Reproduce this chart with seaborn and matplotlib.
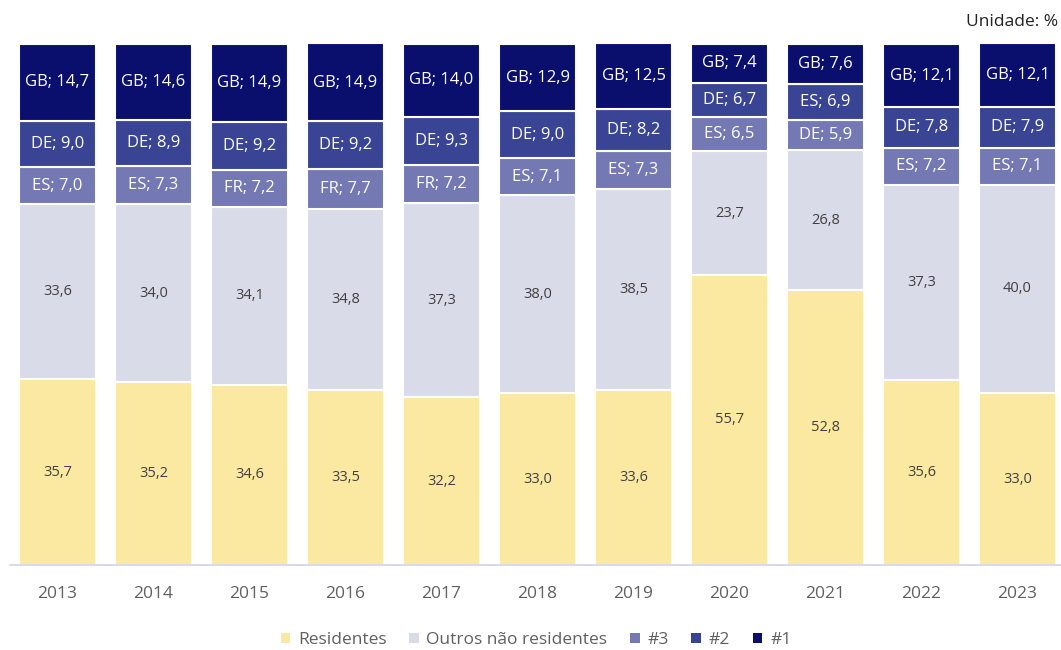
import matplotlib
matplotlib.use("Agg")
import matplotlib.pyplot as plt
from matplotlib.patches import Patch
import numpy as np
import pandas as pd
import seaborn as sns

years = ["2013", "2014", "2015", "2016", "2017", "2018", "2019", "2020", "2021", "2022", "2023"]
residentes = [35.7, 35.2, 34.6, 33.5, 32.2, 33.0, 33.6, 55.7, 52.8, 35.6, 33.0]
outros = [33.6, 34.0, 34.1, 34.8, 37.3, 38.0, 38.5, 23.7, 26.8, 37.3, 40.0]
top3_vals = [7.0, 7.3, 7.2, 7.7, 7.2, 7.1, 7.3, 6.5, 5.9, 7.2, 7.1]
top3_names = ["ES", "ES", "FR", "FR", "FR", "ES", "ES", "ES", "DE", "ES", "ES"]
top2_vals = [9.0, 8.9, 9.2, 9.2, 9.3, 9.0, 8.2, 6.7, 6.9, 7.8, 7.9]
top2_names = ["DE", "DE", "DE", "DE", "DE", "DE", "DE", "DE", "ES", "DE", "DE"]
top1_vals = [14.7, 14.6, 14.9, 14.9, 14.0, 12.9, 12.5, 7.4, 7.6, 12.1, 12.1]
top1_names = ["GB"] * 11

series = [
    ("Residentes", residentes, None, "#FCE9A1", "#404040", 10.5),
    ("Outros não residentes", outros, None, "#D9DBE8", "#404040", 10.5),
    ("#3", top3_vals, top3_names, "#7479B3", "white", 12),
    ("#2", top2_vals, top2_names, "#3A4494", "white", 12),
    ("#1", top1_vals, top1_names, "#0A0F6E", "white", 12),
]

FONT = ["Open Sans", "DejaVu Sans"]


def fmt(v):
    return f"{v:.1f}".replace(".", ",")


fig = plt.figure(figsize=(10.61, 6.5), dpi=100)
ax = fig.add_axes([9.5 / 1061, 85 / 650, 1056 / 1061, 521 / 650])
plt.rcParams["font.family"] = FONT

bottom = np.zeros(len(years))
handles = []
for name, vals, names, color, tcolor, fs in series:
    df = pd.DataFrame({"ano": years, "valor": vals})
    sns.barplot(data=df, x="ano", y="valor", color=color, width=0.8,
                bottom=bottom.copy(), edgecolor="white", linewidth=1.5,
                saturation=1, ax=ax, errorbar=None)
    cont = ax.containers[-1]
    if names is None:
        labels = [fmt(v) for v in vals]
    else:
        labels = [f"{n}; {fmt(v)}" for n, v in zip(names, vals)]
    ax.bar_label(cont, labels=labels, label_type="center", color=tcolor,
                 fontsize=fs, family=FONT)
    bottom += np.array(vals)
    handles.append(Patch(facecolor=color, edgecolor="none", label=name))

ax.set_xlim(-0.5, 10.5)
ax.set_ylim(0, 100)
ax.set_xlabel("")
ax.set_ylabel("")
ax.set_yticks([])
for s in ["top", "left", "right"]:
    ax.spines[s].set_visible(False)
ax.spines["bottom"].set_color("#D0D4E4")
ax.spines["bottom"].set_linewidth(1.2)
ax.tick_params(axis="x", length=0, pad=15, labelsize=12.5, labelcolor="#606060")
for t in ax.get_xticklabels():
    t.set_family(FONT)

leg = fig.legend(handles=handles, loc="center", bbox_to_anchor=(536 / 1061, 1 - 640 / 650),
                 ncol=5, frameon=False, handlelength=0.55, handleheight=0.55,
                 handletextpad=0.45, columnspacing=1.3,
                 prop={"family": FONT, "size": 12.5})
for t in leg.get_texts():
    t.set_color("#606060")

fig.text(1058 / 1061, 1 - 22 / 650, "Unidade: %", ha="right", va="center",
         fontsize=12.5, color="#222222", family=FONT)

fig.savefig("out.png", dpi=100, facecolor="white")
